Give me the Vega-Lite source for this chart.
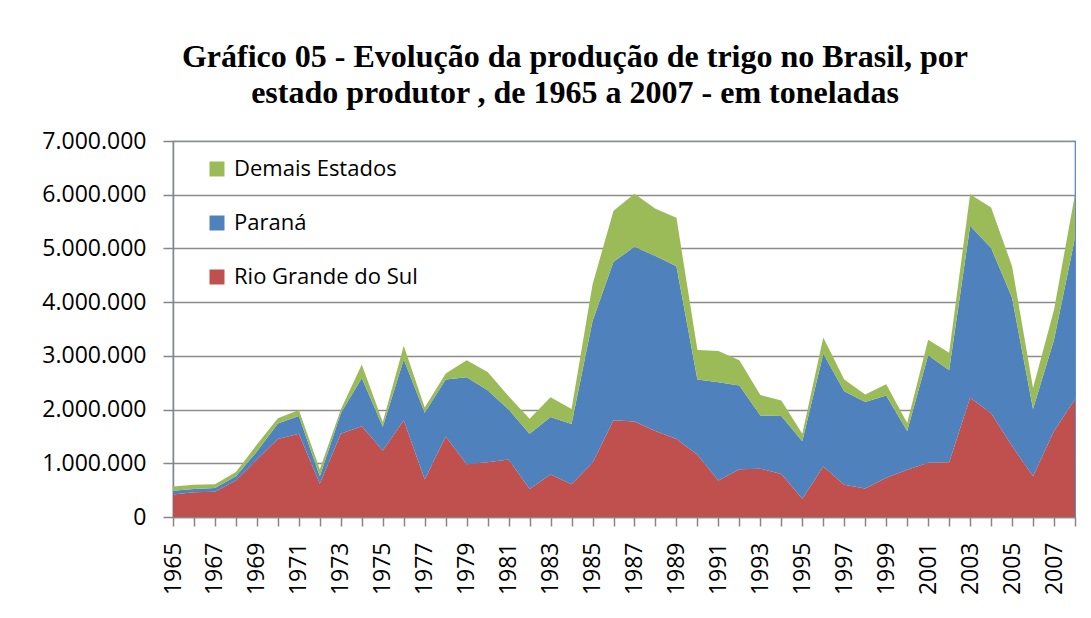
{
  "$schema": "https://vega.github.io/schema/vega-lite/v6.json",
  "width": 902,
  "height": 376,
  "autosize": {"type": "none"},
  "padding": {"left": 173, "top": 141, "right": 16, "bottom": 101},
  "background": "white",
  "config": {
    "locale": {"number": {"decimal": ",", "thousands": ".", "grouping": [3], "currency": ["R$", ""]}},
    "view": {"stroke": "#4f81bd", "strokeWidth": 1.2},
    "axis": {"labelFont": "Open Sans", "labelFontSize": 23, "labelColor": "#000000", "domainColor": "#868686", "domainWidth": 1.5, "tickColor": "#868686", "tickWidth": 1.5, "gridColor": "#8c8c8c", "gridWidth": 1.5}
  },
  "title": {
    "text": ["Gráfico 05 - Evolução da produção de trigo no Brasil, por", "estado produtor , de 1965 a 2007 - em toneladas"],
    "font": "Liberation Serif",
    "fontSize": 32,
    "fontWeight": "bold",
    "color": "#000000",
    "lineHeight": 36,
    "anchor": "middle",
    "frame": "group",
    "dx": -49,
    "offset": 20
  },
  "data": {
    "values": [
      {"ano": 1965, "Rio Grande do Sul": 420000, "Paraná": 70000, "Demais Estados": 80000},
      {"ano": 1966, "Rio Grande do Sul": 460000, "Paraná": 60000, "Demais Estados": 80000},
      {"ano": 1967, "Rio Grande do Sul": 470000, "Paraná": 70000, "Demais Estados": 70000},
      {"ano": 1968, "Rio Grande do Sul": 680000, "Paraná": 80000, "Demais Estados": 80000},
      {"ano": 1969, "Rio Grande do Sul": 1070000, "Paraná": 150000, "Demais Estados": 130000},
      {"ano": 1970, "Rio Grande do Sul": 1450000, "Paraná": 290000, "Demais Estados": 100000},
      {"ano": 1971, "Rio Grande do Sul": 1550000, "Paraná": 330000, "Demais Estados": 110000},
      {"ano": 1972, "Rio Grande do Sul": 620000, "Paraná": 140000, "Demais Estados": 130000},
      {"ano": 1973, "Rio Grande do Sul": 1550000, "Paraná": 380000, "Demais Estados": 70000},
      {"ano": 1974, "Rio Grande do Sul": 1690000, "Paraná": 900000, "Demais Estados": 250000},
      {"ano": 1975, "Rio Grande do Sul": 1240000, "Paraná": 440000, "Demais Estados": 90000},
      {"ano": 1976, "Rio Grande do Sul": 1800000, "Paraná": 1130000, "Demais Estados": 260000},
      {"ano": 1977, "Rio Grande do Sul": 700000, "Paraná": 1240000, "Demais Estados": 100000},
      {"ano": 1978, "Rio Grande do Sul": 1500000, "Paraná": 1060000, "Demais Estados": 110000},
      {"ano": 1979, "Rio Grande do Sul": 980000, "Paraná": 1620000, "Demais Estados": 320000},
      {"ano": 1980, "Rio Grande do Sul": 1020000, "Paraná": 1340000, "Demais Estados": 340000},
      {"ano": 1981, "Rio Grande do Sul": 1070000, "Paraná": 930000, "Demais Estados": 250000},
      {"ano": 1982, "Rio Grande do Sul": 520000, "Paraná": 1030000, "Demais Estados": 280000},
      {"ano": 1983, "Rio Grande do Sul": 790000, "Paraná": 1070000, "Demais Estados": 370000},
      {"ano": 1984, "Rio Grande do Sul": 610000, "Paraná": 1120000, "Demais Estados": 280000},
      {"ano": 1985, "Rio Grande do Sul": 1010000, "Paraná": 2640000, "Demais Estados": 680000},
      {"ano": 1986, "Rio Grande do Sul": 1800000, "Paraná": 2950000, "Demais Estados": 950000},
      {"ano": 1987, "Rio Grande do Sul": 1780000, "Paraná": 3250000, "Demais Estados": 990000},
      {"ano": 1988, "Rio Grande do Sul": 1600000, "Paraná": 3260000, "Demais Estados": 880000},
      {"ano": 1989, "Rio Grande do Sul": 1450000, "Paraná": 3220000, "Demais Estados": 900000},
      {"ano": 1990, "Rio Grande do Sul": 1160000, "Paraná": 1400000, "Demais Estados": 550000},
      {"ano": 1991, "Rio Grande do Sul": 680000, "Paraná": 1830000, "Demais Estados": 580000},
      {"ano": 1992, "Rio Grande do Sul": 890000, "Paraná": 1560000, "Demais Estados": 470000},
      {"ano": 1993, "Rio Grande do Sul": 900000, "Paraná": 990000, "Demais Estados": 380000},
      {"ano": 1994, "Rio Grande do Sul": 800000, "Paraná": 1080000, "Demais Estados": 290000},
      {"ano": 1995, "Rio Grande do Sul": 340000, "Paraná": 1070000, "Demais Estados": 140000},
      {"ano": 1996, "Rio Grande do Sul": 940000, "Paraná": 2100000, "Demais Estados": 300000},
      {"ano": 1997, "Rio Grande do Sul": 600000, "Paraná": 1740000, "Demais Estados": 220000},
      {"ano": 1998, "Rio Grande do Sul": 530000, "Paraná": 1610000, "Demais Estados": 140000},
      {"ano": 1999, "Rio Grande do Sul": 730000, "Paraná": 1530000, "Demais Estados": 210000},
      {"ano": 2000, "Rio Grande do Sul": 880000, "Paraná": 720000, "Demais Estados": 150000},
      {"ano": 2001, "Rio Grande do Sul": 1010000, "Paraná": 2000000, "Demais Estados": 290000},
      {"ano": 2002, "Rio Grande do Sul": 1020000, "Paraná": 1710000, "Demais Estados": 330000},
      {"ano": 2003, "Rio Grande do Sul": 2220000, "Paraná": 3200000, "Demais Estados": 590000},
      {"ano": 2004, "Rio Grande do Sul": 1930000, "Paraná": 3080000, "Demais Estados": 750000},
      {"ano": 2005, "Rio Grande do Sul": 1320000, "Paraná": 2760000, "Demais Estados": 590000},
      {"ano": 2006, "Rio Grande do Sul": 760000, "Paraná": 1250000, "Demais Estados": 390000},
      {"ano": 2007, "Rio Grande do Sul": 1600000, "Paraná": 1700000, "Demais Estados": 560000},
      {"ano": 2008, "Rio Grande do Sul": 2190000, "Paraná": 3010000, "Demais Estados": 810000}
    ]
  },
  "transform": [
    {"fold": ["Rio Grande do Sul", "Paraná", "Demais Estados"], "as": ["estado", "toneladas"]}
  ],
  "mark": {"type": "area", "line": false, "opacity": 1},
  "encoding": {
    "x": {
      "field": "ano",
      "type": "quantitative",
      "scale": {"domain": [1965, 2008], "nice": false, "zero": false},
      "axis": {
        "title": null,
        "grid": false,
        "values": [1965,1966,1967,1968,1969,1970,1971,1972,1973,1974,1975,1976,1977,1978,1979,1980,1981,1982,1983,1984,1985,1986,1987,1988,1989,1990,1991,1992,1993,1994,1995,1996,1997,1998,1999,2000,2001,2002,2003,2004,2005,2006,2007,2008],
        "labelExpr": "datum.value % 2 == 1 ? datum.value + '' : ''",
        "labelAngle": -90,
        "labelPadding": 16,
        "tickSize": 9,
        "labelOverlap": false,
        "labelBound": false,
        "labelFlush": false
      }
    },
    "y": {
      "field": "toneladas",
      "type": "quantitative",
      "stack": "zero",
      "scale": {"domain": [0, 7000000], "nice": false},
      "axis": {
        "title": null,
        "values": [0, 1000000, 2000000, 3000000, 4000000, 5000000, 6000000, 7000000],
        "format": ",d",
        "tickSize": 10,
        "labelPadding": 17
      }
    },
    "color": {
      "field": "estado",
      "type": "nominal",
      "scale": {"domain": ["Demais Estados", "Paraná", "Rio Grande do Sul"], "range": ["#9bbb59", "#4f81bd", "#c0504d"]},
      "legend": {
        "title": null,
        "orient": "none",
        "legendX": 33,
        "legendY": 17,
        "symbolType": "square",
        "symbolSize": 225,
        "symbolStrokeWidth": 0,
        "labelFont": "Open Sans",
        "labelFontSize": 22,
        "labelColor": "#000000",
        "labelOffset": 6,
        "rowPadding": 32,
        "labelLimit": 400
      }
    },
    "order": {"field": "estado", "sort": "descending"}
  }
}
